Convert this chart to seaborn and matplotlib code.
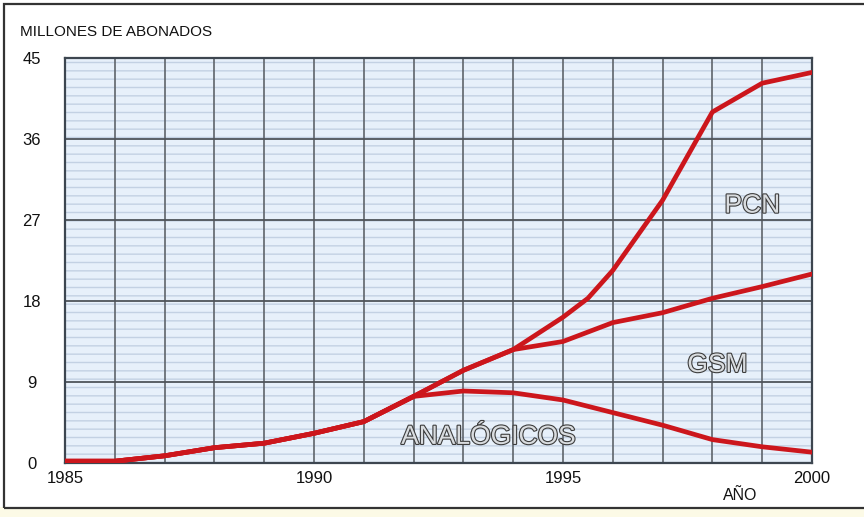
import matplotlib
matplotlib.use("Agg")
import matplotlib.pyplot as plt
import matplotlib.patheffects as pe
from matplotlib.patches import Rectangle
import pandas as pd
import seaborn as sns

# Subscriber estimates (millions) by year
years = [1985, 1986, 1987, 1988, 1989, 1990, 1991, 1992, 1993, 1994,
         1995, 1996, 1997, 1998, 1999, 2000]
analogicos = [0.2, 0.2, 0.8, 1.7, 2.2, 3.3, 4.6, 7.4, 8.0, 7.8,
              7.0, 5.6, 4.2, 2.6, 1.8, 1.2]
gsm = [0.2, 0.2, 0.8, 1.7, 2.2, 3.3, 4.6, 7.4, 10.3, 12.6,
       13.5, 15.6, 16.7, 18.3, 19.6, 21.0]
pcn_years = [1985, 1986, 1987, 1988, 1989, 1990, 1991, 1992, 1993, 1994,
             1995, 1995.5, 1996, 1997, 1998, 1999, 2000]
pcn = [0.2, 0.2, 0.8, 1.7, 2.2, 3.3, 4.6, 7.4, 10.3, 12.6,
       16.2, 18.3, 21.4, 29.2, 39.0, 42.2, 43.4]

y_ticks = [0, 9, 18, 27, 36, 45]
x_ticks = [1985, 1990, 1995, 2000]
series_labels = {"PCN": (1998.8, 28.6), "GSM": (1998.1, 10.9), "ANALÓGICOS": (1993.5, 2.9)}

sns.set_style("white")
plt.rcParams["font.family"] = ["Liberation Sans", "DejaVu Sans"]

df = pd.concat([
    pd.DataFrame({"año": years, "abonados": analogicos, "serie": "ANALÓGICOS"}),
    pd.DataFrame({"año": years, "abonados": gsm, "serie": "GSM"}),
    pd.DataFrame({"año": pcn_years, "abonados": pcn, "serie": "PCN"}),
])

fig = plt.figure(figsize=(8.64, 5.17), dpi=100)
ax = fig.add_axes([65 / 864, 1 - 463 / 517, (812 - 65) / 864, (463 - 58) / 517])
ax.set_facecolor("#e7f0fa")

# fine dashed texture over the panel
ax.add_patch(Rectangle((0, 0), 1, 1, transform=ax.transAxes, facecolor="none",
                       edgecolor="#c3d1e3", hatch="- - ", linewidth=0, zorder=0.5))

# grid: every year vertically, every 9 million horizontally
for yr in range(1986, 2000):
    ax.axvline(yr, color="#5f646b", lw=1.2, zorder=1)
for v in y_ticks[1:-1]:
    ax.axhline(v, color="#4f545a", lw=1.3, zorder=1)

red = "#cc161c"
sns.lineplot(data=df, x="año", y="abonados", units="serie", estimator=None,
             color=red, linewidth=3.4, sort=False, ax=ax, zorder=3, legend=False)

ax.set_xlim(1985, 2000)
ax.set_ylim(0, 45)
ax.set_xticks(x_ticks)
ax.set_yticks(y_ticks)
ax.set_xticklabels([str(t) for t in x_ticks])
ax.set_yticklabels([str(t) for t in y_ticks])
ax.tick_params(axis="both", length=0, labelsize=12, colors="#111111")
ax.tick_params(axis="y", pad=24)
ax.tick_params(axis="x", pad=6)
for lbl in ax.get_yticklabels():
    lbl.set_horizontalalignment("center")
ax.set_xlabel("")
ax.set_ylabel("")
for side in ["left", "bottom", "top", "right"]:
    ax.spines[side].set_visible(True)
    ax.spines[side].set_color("#3d4650")
    ax.spines[side].set_linewidth(1.6)

outline = [pe.Stroke(linewidth=1.6, foreground="#3c3c3c"), pe.Normal()]
for name, (xx, yy) in series_labels.items():
    ax.text(xx, yy, name, color="#d9dcdf", fontsize=19, ha="center", va="center",
            zorder=4, path_effects=outline)

fig.text(20 / 864, 1 - 32 / 517, "MILLONES DE ABONADOS", fontsize=11, color="#111111",
         ha="left", va="center")
fig.text(740 / 864, 1 - 496 / 517, "AÑO", fontsize=11.5, color="#111111",
         ha="center", va="center")

# outer frame and pale strip along the bottom edge
fig.add_artist(Rectangle((0, 0), 1, 10 / 517, transform=fig.transFigure,
                         facecolor="#fcfae6", edgecolor="none"))
fig.add_artist(Rectangle((4 / 864, 9 / 517), 1.2, 1 - 13 / 517, transform=fig.transFigure,
                         facecolor="none", edgecolor="#333333", linewidth=1.6))

fig.savefig("out.png", dpi=100)
